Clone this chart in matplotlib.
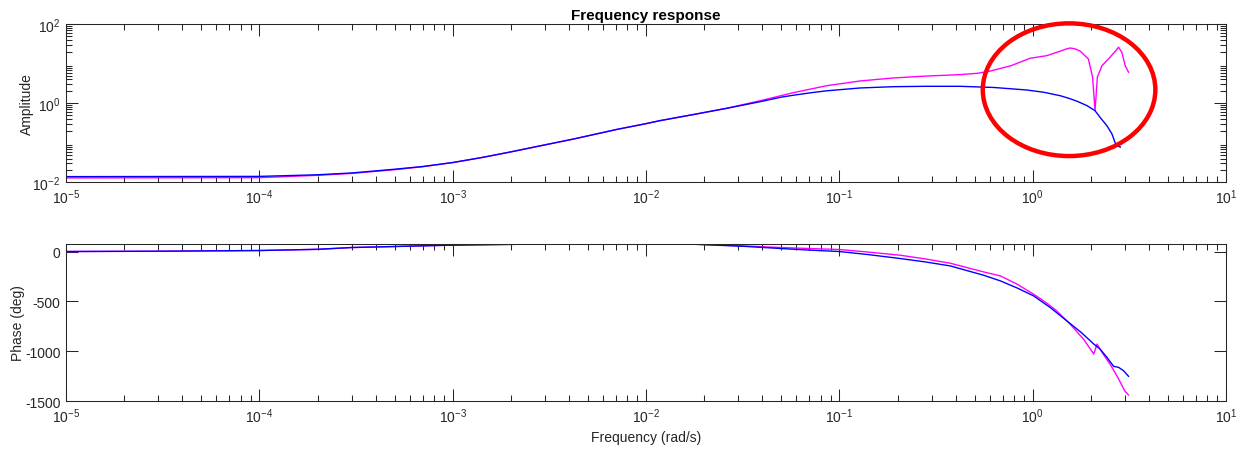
# plot.py
# Respuesta en frecuencia: amplitud (log) y fase, dos curvas + elipse roja de anotación

import matplotlib
matplotlib.use("Agg")
import matplotlib.pyplot as plt
import numpy as np
from matplotlib.patches import Ellipse
from matplotlib.ticker import LogLocator, NullFormatter

# ---------------------------------------------------------------
# Datos
# ---------------------------------------------------------------
f_amp_blue = [1e-5, 1e-4, 2e-4, 3e-4, 5e-4, 7e-4, 1e-3, 1.41e-3, 2e-3, 3.16e-3,
              4.2e-3, 7.1e-3, 1e-2, 1.18e-2, 1.78e-2, 2.62e-2, 3.89e-2, 5.01e-2,
              5.79e-2, 7.08e-2, 8.61e-2, 0.128, 0.19, 0.28, 0.42, 0.63, 0.93,
              1.14, 1.39, 1.55, 1.70, 1.91, 2.10, 2.23, 2.42, 2.57, 2.70, 2.84]
amp_blue = [0.0139, 0.0141, 0.0155, 0.0172, 0.0214, 0.0251, 0.0316, 0.0422,
            0.0589, 0.0933, 0.124, 0.219, 0.305, 0.363, 0.525, 0.746, 1.096,
            1.43, 1.60, 1.84, 2.07, 2.44, 2.63, 2.69, 2.69, 2.51, 2.17, 1.90,
            1.55, 1.32, 1.12, 0.87, 0.65, 0.44, 0.27, 0.167, 0.085, 0.078]

f_amp_mag = [1e-5, 1e-4, 2e-4, 3e-4, 5e-4, 7e-4, 1e-3, 1.41e-3, 2e-3, 3.16e-3,
             4.2e-3, 7.1e-3, 1e-2, 1.18e-2, 1.78e-2, 2.62e-2, 3.89e-2, 5.79e-2,
             8.61e-2, 0.128, 0.19, 0.284, 0.42, 0.52, 0.60, 0.77, 0.97, 1.18,
             1.39, 1.48, 1.56, 1.65, 1.76, 1.94, 2.04, 2.10, 2.16, 2.28, 2.51,
             2.68, 2.78, 2.89, 3.01, 3.13]
amp_mag = [0.0129, 0.0131, 0.0150, 0.0168, 0.0208, 0.0248, 0.0316, 0.0422,
           0.0589, 0.0933, 0.124, 0.219, 0.305, 0.363, 0.525, 0.750, 1.16,
           1.86, 2.79, 3.67, 4.37, 4.90, 5.31, 5.75, 6.5, 8.9, 13.8, 16.0,
           20.9, 23.4, 25.1, 24.0, 20.9, 13.2, 4.6, 0.65, 4.6, 8.9, 14.6,
           21.0, 26.3, 19.5, 8.9, 6.1]

f_ph_blue = [1e-5, 3e-5, 1e-4, 2e-4, 3e-4, 1e-3, 3e-3, 1e-2, 1.8e-2, 3.2e-2,
             5e-2, 7e-2, 0.1, 0.14, 0.206, 0.28, 0.374, 0.556, 0.68, 0.83,
             1.01, 1.23, 1.50, 1.78, 2.07, 2.23, 2.42, 2.62, 2.78, 2.95, 3.13]
ph_blue = [0, 3, 10, 22, 40, 64, 76, 76, 72, 52, 30, 14, 0, -30, -70, -105,
           -144, -237, -294, -365, -444, -560, -694, -810, -927, -977, -1060,
           -1150, -1160, -1194, -1250]

f_ph_mag = [1e-5, 3e-5, 1e-4, 2e-4, 3e-4, 1e-3, 3e-3, 1e-2, 1.8e-2, 3.2e-2,
            5e-2, 7e-2, 0.1, 0.14, 0.206, 0.28, 0.374, 0.556, 0.68, 0.83,
            1.01, 1.16, 1.33, 1.56, 1.83, 2.0, 2.07, 2.15, 2.30, 2.51, 2.68,
            2.84, 3.0, 3.13]
ph_mag = [0, 3, 10, 22, 40, 64, 76, 76, 73, 56, 40, 30, 20, -5, -37, -75,
          -117, -204, -244, -327, -427, -505, -594, -727, -877, -985, -1027,
          -927, -1020, -1127, -1220, -1310, -1400, -1437]

XLIM = (1e-5, 1e1)
X_TICKS = [1e-5, 1e-4, 1e-3, 1e-2, 1e-1, 1e0, 1e1]
AMP_LIM = (1e-2, 1e2)
AMP_TICKS = [1e-2, 1e0, 1e2]
PH_LIM = (-1500, 80)
PH_TICKS = [0, -500, -1000, -1500]

AXCOL = "#262626"
BLUE = "#0000FF"
MAGENTA = "#FF00FF"

plt.rcParams["font.family"] = ["Liberation Sans", "DejaVu Sans"]
plt.rcParams["font.size"] = 10
plt.rcParams["axes.linewidth"] = 0.75
plt.rcParams["axes.unicode_minus"] = False


def style_axes(ax, logy):
    ax.set_xscale("log")
    ax.set_xticks(X_TICKS)
    ax.set_xlim(*XLIM)
    ax.xaxis.set_minor_locator(LogLocator(base=10, subs=np.arange(2, 10), numticks=20))
    ax.xaxis.set_minor_formatter(NullFormatter())
    ax.tick_params(which="both", direction="in", top=True, right=True,
                   color=AXCOL, labelcolor=AXCOL, width=0.75)
    ax.tick_params(which="major", length=8.5, pad=4)
    ax.tick_params(which="minor", length=4.3)
    if logy:
        ax.yaxis.set_minor_locator(LogLocator(base=10, subs=np.arange(2, 10), numticks=20))
        ax.yaxis.set_minor_formatter(NullFormatter())
    for s in ax.spines.values():
        s.set_color(AXCOL)


fig = plt.figure(figsize=(12.46, 4.52), dpi=100)
fig.patch.set_facecolor("white")

ax1 = fig.add_axes([0.0530, 0.5945, 0.9310, 0.3496])
ax2 = fig.add_axes([0.0530, 0.1100, 0.9310, 0.3490])

# Amplitud
ax1.plot(f_amp_mag, amp_mag, color=MAGENTA, lw=1.0)
ax1.plot(f_amp_blue, amp_blue, color=BLUE, lw=1.0)
ax1.set_yscale("log")
ax1.set_yticks(AMP_TICKS)
ax1.set_ylim(*AMP_LIM)
style_axes(ax1, logy=True)
ax1.set_ylabel("Amplitude", color=AXCOL)
ax1.yaxis.set_label_coords(-0.028, 0.5)
ax1.set_title("Frequency response", fontsize=11, fontweight="bold",
              color="black", pad=4)

# Fase
ax2.plot(f_ph_mag, ph_mag, color=MAGENTA, lw=1.0)
ax2.plot(f_ph_blue, ph_blue, color=BLUE, lw=1.0)
ax2.set_yticks(PH_TICKS)
ax2.set_ylim(*PH_LIM)
style_axes(ax2, logy=False)
ax2.set_ylabel("Phase (deg)", color=AXCOL)
ax2.yaxis.set_label_coords(-0.035, 0.5)
ax2.set_xlabel("Frequency (rad/s)", color=AXCOL, labelpad=3)

# Elipse roja (anotación a mano)
ell = Ellipse((0.858, 0.7993), 0.1385, 0.2936, transform=fig.transFigure,
              fill=False, ec="#FF0000", lw=3.2)
fig.add_artist(ell)

fig.savefig("out.png", dpi=100, facecolor=fig.get_facecolor())
